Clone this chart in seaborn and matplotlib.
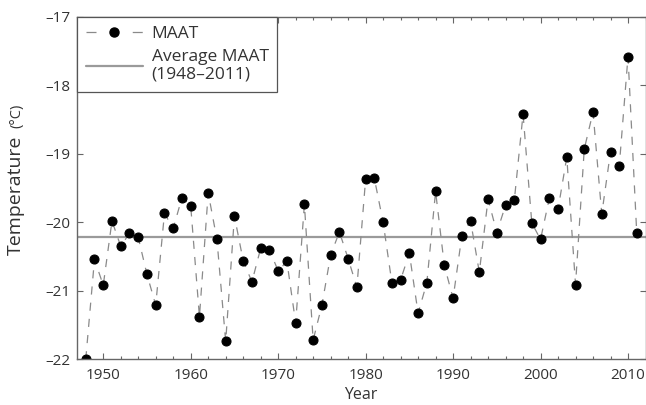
import numpy as np
import pandas as pd
import matplotlib
matplotlib.use('Agg')
import matplotlib.pyplot as plt
from matplotlib.lines import Line2D
from matplotlib.ticker import MultipleLocator
import seaborn as sns

# Mean annual air temperature
years = list(range(1948, 2012))
maat = [-22.00, -20.54, -20.92, -19.98, -20.35, -20.16, -20.22, -20.76, -21.21, -19.87,
        -20.09, -19.64, -19.76, -21.38, -19.57, -20.25, -21.74, -19.91, -20.56, -20.87,
        -20.38, -20.40, -20.71, -20.57, -21.47, -19.74, -21.72, -21.21, -20.48, -20.14,
        -20.53, -20.95, -19.37, -19.36, -20.00, -20.88, -20.84, -20.45, -21.33, -20.88,
        -19.55, -20.63, -21.11, -20.20, -19.98, -20.73, -19.66, -20.15, -19.75, -19.68,
        -18.42, -20.01, -20.25, -19.65, -19.81, -19.05, -20.91, -18.93, -18.39, -19.88,
        -18.97, -19.18, -17.58, -20.16]
avg_maat = -20.21

x_ticks = [1950, 1960, 1970, 1980, 1990, 2000, 2010]
y_ticks = [-22, -21, -20, -19, -18, -17]
y_tick_labels = ['\u201322', '\u201321', '\u201320', '\u201319', '\u201318', '\u201317']

sns.set_style('ticks')
plt.rcParams['font.family'] = ['Open Sans', 'DejaVu Sans']

W, H = 646, 405
fig = plt.figure(figsize=(W / 100, H / 100), dpi=100)
ax = fig.add_axes([77 / W, 1 - 359.3 / H, (645.5 - 77) / W, (359.3 - 16.8) / H])

df = pd.DataFrame({'Year': years, 'MAAT': maat})
sns.lineplot(data=df, x='Year', y='MAAT', ax=ax, color='#8a8a8a', linewidth=0.9,
             linestyle='--', marker='o', markersize=6.5, markerfacecolor='black',
             markeredgecolor='black', label='MAAT', legend=False)
ax.lines[0].set_dashes((6.5, 6.5))
ax.axhline(avg_maat, color='#9a9a9a', linewidth=1.6, zorder=1)

ax.set_xlim(1947, 2012)
ax.set_ylim(-22, -17)
ax.set_xticks(x_ticks)
ax.xaxis.set_minor_locator(MultipleLocator(2))
ax.set_yticks(y_ticks, labels=y_tick_labels)

for side in ['left', 'bottom', 'top', 'right']:
    ax.spines[side].set_visible(True)
    ax.spines[side].set_color('#666666')
    ax.spines[side].set_linewidth(1.0)
ax.tick_params(which='both', direction='in', top=True, right=True, colors='#666666',
               labelcolor='#333333', labelsize=11)
ax.tick_params(which='major', length=4, width=0.8)
ax.tick_params(which='minor', length=2.5, width=0.8)
ax.tick_params(axis='x', pad=6)
ax.tick_params(axis='y', pad=5)

ax.set_xlabel('Year', fontsize=11.5, color='#333333', labelpad=3)
ax.set_ylabel('')
fig.text(16 / W, 1 - 195 / H, 'Temperature', rotation=90, ha='center', va='center',
         fontsize=14, color='#333333')
fig.text(17 / W, 1 - 116 / H, '(\u00b0C)', rotation=90, ha='center', va='center',
         fontsize=10.5, color='#333333')

# legend
h_maat = Line2D([], [], color='#8a8a8a', linewidth=0.9, dashes=(8, 29), marker='o',
                markersize=6.5, markerfacecolor='black', markeredgecolor='black')
h_avg = Line2D([], [], color='#9a9a9a', linewidth=1.6)
leg = ax.legend([h_maat, h_avg], ['MAAT', 'Average MAAT\n(1948\u20132011)'],
                loc='upper left', bbox_to_anchor=(0, 1), borderaxespad=0,
                fontsize=12.5, handlelength=3.3, handletextpad=0.5, borderpad=0.5,
                labelspacing=0.4, fancybox=False, framealpha=1, edgecolor='#555555',
                labelcolor='#333333')
leg.get_frame().set_linewidth(0.9)

fig.savefig('out.png', dpi=100)
